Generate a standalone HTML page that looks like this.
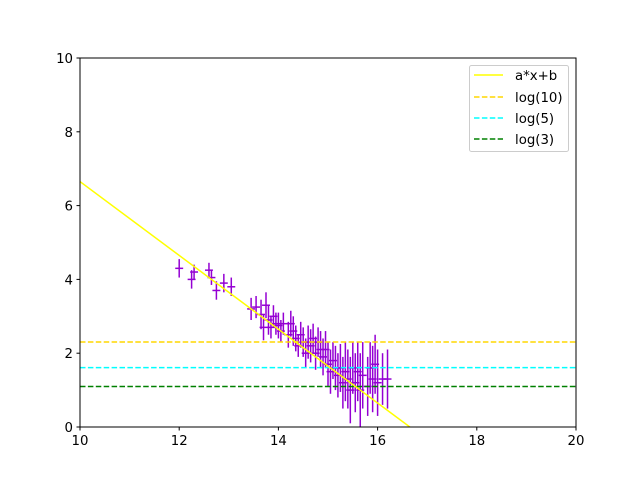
<!DOCTYPE html>
<html><head><meta charset="utf-8"><style>
html,body{margin:0;padding:0;background:#fff;width:640px;height:480px;overflow:hidden;}
svg{display:block;font-family:"DejaVu Sans","Liberation Sans",sans-serif;}
</style></head><body>
<svg id="chart" width="640" height="480" viewBox="0 0 640 480" xmlns="http://www.w3.org/2000/svg">
<rect width="640" height="480" fill="#fff"/>
<g id="plot"></g>
<g id="axes"></g>
<g>
<rect x="469.5" y="65.5" width="99" height="86" rx="2" fill="#fff" fill-opacity="0.8" stroke="#ccc"/>
<line x1="474" y1="75" x2="503" y2="75" stroke="#ffff00" stroke-width="1.5"/>
<text x="515" y="80" font-size="13.3">a*x+b</text>
<line x1="474" y1="97" x2="503" y2="97" stroke="#ffd700" stroke-width="1.5" stroke-dasharray="5.5,2.4"/>
<text x="515" y="102" font-size="13.3">log(10)</text>
<line x1="474" y1="118" x2="503" y2="118" stroke="#00ffff" stroke-width="1.5" stroke-dasharray="5.5,2.4"/>
<text x="515" y="123" font-size="13.3">log(5)</text>
<line x1="474" y1="139" x2="503" y2="139" stroke="#008000" stroke-width="1.5" stroke-dasharray="5.5,2.4"/>
<text x="515" y="144" font-size="13.3">log(3)</text>
</g>
</svg>
<script>
const xs=[12.0,12.25,12.3,12.6,12.65,12.75,12.9,13.05,13.45,13.55,13.65,13.7,13.75,13.8,13.85,13.9,13.95,14.0,14.05,14.1,14.2,14.25,14.3,14.35,14.4,14.45,14.5,14.55,14.6,14.65,14.7,14.75,14.8,14.85,14.9,14.95,15.0,15.05,15.1,15.15,15.2,15.25,15.3,15.35,15.4,15.45,15.5,15.55,15.6,15.65,15.7,15.8,15.85,15.9,15.95,16.0,16.1,16.2];
const ys=[4.3,4.0,4.2,4.25,4.05,3.7,3.9,3.8,3.2,3.25,3.05,2.7,3.3,2.9,2.7,3.0,2.8,2.75,2.6,2.8,2.5,2.8,2.6,2.4,2.2,2.5,2.3,2.0,2.3,2.2,2.4,2.0,2.3,2.1,1.9,2.1,1.7,1.5,1.8,1.6,1.4,1.6,1.2,1.5,1.3,1.0,1.6,1.2,1.5,1.0,1.4,1.1,1.6,1.3,1.7,1.2,1.3,1.3];
const yerr=[0.25,0.25,0.2,0.2,0.2,0.25,0.25,0.25,0.3,0.3,0.4,0.35,0.35,0.4,0.3,0.3,0.3,0.35,0.3,0.3,0.35,0.35,0.4,0.35,0.3,0.35,0.4,0.4,0.45,0.45,0.4,0.45,0.4,0.5,0.5,0.5,0.6,0.6,0.5,0.6,0.6,0.65,0.7,0.8,0.8,0.9,0.7,0.8,0.8,1.0,0.9,0.8,0.7,0.9,0.8,0.9,0.7,0.8];
const xerr=0.08;
const slope=-1.0, intercept=16.65;
const hlines=[Math.log(10),Math.log(5),Math.log(3)];
const hcolors=["#ffd700","#00ffff","#008000"];
const hnames=["log10-line","log5-line","log3-line"];
const xticks=[10,12,14,16,18,20];
const yticks=[0,2,4,6,8,10];
const X0=80,X1=576,Y0=427,Y1=58;
const sx=v=>X0+(v-10)/10*(X1-X0);
const sy=v=>Y0-(v-0)/10*(Y0-Y1);
const NS="http://www.w3.org/2000/svg";
function mk(tag,attrs,parent){const e=document.createElementNS(NS,tag);for(const k in attrs)e.setAttribute(k,attrs[k]);parent.appendChild(e);return e;}
const plot=document.getElementById('plot'), axes=document.getElementById('axes');
const cp=mk('clipPath',{id:'clip'},plot);
mk('rect',{x:X0,y:Y1,width:X1-X0,height:Y0-Y1},cp);
const g=mk('g',{'clip-path':'url(#clip)'},plot);
for(let i=0;i<xs.length;i++){
 const e1=mk('line',{x1:sx(xs[i]),x2:sx(xs[i]),y1:sy(ys[i]-yerr[i]),y2:sy(ys[i]+yerr[i]),stroke:'#9400d3','stroke-width':1.5},g);
 
 
 const e2=mk('line',{x1:sx(xs[i]-xerr),x2:sx(xs[i]+xerr),y1:sy(ys[i]),y2:sy(ys[i]),stroke:'#9400d3','stroke-width':1.5},g);
 
 
}
for(let i=0;i<hlines.length;i++){
 const l=mk('line',{x1:X0,x2:X1,y1:sy(hlines[i]),y2:sy(hlines[i]),stroke:hcolors[i],'stroke-width':1.5,'stroke-dasharray':'5.5,2.4'},g);
 
 
}
const fit=mk('line',{x1:sx(10),y1:sy(slope*10+intercept),x2:sx(20),y2:sy(slope*20+intercept),stroke:'#ffff00','stroke-width':1.5},g);


const frame=mk('rect',{x:X0,y:Y1,width:X1-X0,height:Y0-Y1,fill:'none',stroke:'#000','stroke-width':1},axes);


xticks.forEach(t=>{
 mk('line',{x1:sx(t),x2:sx(t),y1:Y0,y2:Y0+3.5,stroke:'#000'},axes);
 const tx=mk('text',{x:sx(t),y:Y0+18,'text-anchor':'middle','font-size':13.3},axes);tx.textContent=t;
 
 
});
yticks.forEach(t=>{
 mk('line',{x1:X0-3.5,x2:X0,y1:sy(t),y2:sy(t),stroke:'#000'},axes);
 const tx=mk('text',{x:X0-7,y:sy(t)+5,'text-anchor':'end','font-size':13.3},axes);tx.textContent=t;
 
 
});
</script>
</body></html>
